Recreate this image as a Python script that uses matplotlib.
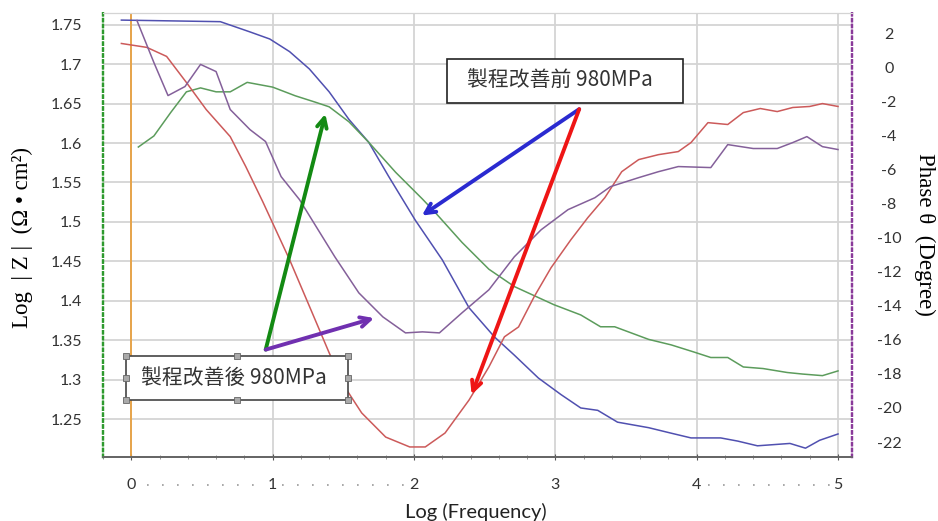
import numpy as np
import matplotlib.pyplot as plt
from matplotlib.patches import Rectangle
from matplotlib.lines import Line2D

# |Z| curves (left axis)
blue_x = [-0.07, 0.63, 0.84, 0.98, 1.12, 1.26, 1.40, 1.54, 1.68, 1.82, 2.01, 2.20, 2.39, 2.57, 2.71,
          2.88, 3.04, 3.18, 3.30, 3.44, 3.66, 3.82, 3.96, 4.17, 4.29, 4.43, 4.66, 4.77, 4.87, 5.0]
blue_y = [1.756, 1.754, 1.741, 1.732, 1.716, 1.694, 1.665, 1.630, 1.601, 1.558, 1.502, 1.452, 1.391,
          1.354, 1.331, 1.302, 1.281, 1.264, 1.261, 1.246, 1.239, 1.232, 1.226, 1.226, 1.222, 1.216,
          1.219, 1.213, 1.223, 1.231]

green_x = [0.05, 0.16, 0.28, 0.39, 0.49, 0.60, 0.70, 0.82, 1.0, 1.16, 1.30, 1.40, 1.54, 1.68, 1.87,
           2.06, 2.15, 2.34, 2.53, 2.71, 2.99, 3.18, 3.32, 3.42, 3.66, 3.82, 3.98, 4.10, 4.22, 4.33,
           4.47, 4.64, 4.75, 4.89, 5.0]
green_y = [1.595, 1.609, 1.639, 1.665, 1.670, 1.665, 1.665, 1.677, 1.671, 1.660, 1.652, 1.646, 1.627,
           1.601, 1.563, 1.529, 1.512, 1.474, 1.440, 1.418, 1.395, 1.382, 1.367, 1.367, 1.351, 1.344,
           1.335, 1.328, 1.328, 1.316, 1.314, 1.309, 1.307, 1.305, 1.311]

# phase curves (right axis)
red_x = [-0.07, 0.11, 0.25, 0.39, 0.53, 0.70, 0.81, 0.93, 1.12, 1.28, 1.40, 1.51, 1.63, 1.80, 1.97,
         2.08, 2.22, 2.39, 2.53, 2.64, 2.74, 2.85, 2.97, 3.11, 3.23, 3.35, 3.47, 3.59, 3.73, 3.87,
         3.96, 4.08, 4.22, 4.33, 4.45, 4.57, 4.68, 4.80, 4.89, 5.0]
red_y = [1.41, 1.18, 0.65, -0.88, -2.47, -4.06, -5.82, -7.88, -11.29, -14.41, -16.76, -18.76, -20.29,
         -21.71, -22.29, -22.29, -21.47, -19.53, -17.59, -15.82, -15.24, -13.47, -11.76, -10.12,
         -8.82, -7.65, -6.12, -5.41, -5.12, -4.94, -4.41, -3.24, -3.35, -2.65, -2.41, -2.59, -2.35,
         -2.29, -2.12, -2.29]

purple_x = [0.04, 0.16, 0.26, 0.38, 0.49, 0.60, 0.70, 0.84, 0.95, 1.06, 1.19, 1.30, 1.44, 1.61, 1.78,
            1.94, 2.06, 2.18, 2.34, 2.53, 2.71, 2.90, 3.09, 3.28, 3.39, 3.59, 3.73, 3.87, 4.10, 4.22,
            4.40, 4.57, 4.68, 4.78, 4.89, 5.0]
purple_y = [2.76, 0.29, -1.65, -1.12, 0.18, -0.24, -2.47, -3.65, -4.35, -6.41, -7.76, -9.24, -11.12,
            -13.24, -14.65, -15.59, -15.53, -15.59, -14.41, -13.06, -11.12, -9.53, -8.35, -7.65,
            -7.0, -6.47, -6.12, -5.82, -5.88, -4.53, -4.76, -4.76, -4.41, -4.06, -4.65, -4.82]

x_ticks = [0, 1, 2, 3, 4, 5]
z_ticks = [1.25, 1.3, 1.35, 1.4, 1.45, 1.5, 1.55, 1.6, 1.65, 1.7, 1.75]
phase_ticks = list(range(-22, 3, 2))

W, H = 938, 521


def fp(x, y):
    # pixel position -> figure fraction
    return x / W, 1 - y / H


fig = plt.figure(figsize=(W / 100, H / 100), dpi=100)
ax = fig.add_axes([103 / W, 1 - 457 / H, (852 - 103) / W, (457 - 13) / H])
ax2 = ax.twinx()

ax.axvline(0, color='#e8a040', lw=1.3, zorder=1)
ax.plot(blue_x, blue_y, color='#5050b0', lw=1.1)
ax.plot(green_x, green_y, color='#5c9c5c', lw=1.1)
ax2.plot(red_x, red_y, color='#cc5a5a', lw=1.1)
ax2.plot(purple_x, purple_y, color='#84609a', lw=1.1)

ax.set_xlim(-0.176, 5.099)
ax.set_ylim(1.2018, 1.765)
ax2.set_ylim(-22.88, 3.2)

ax.set_xticks(x_ticks)
ax.set_xticks(np.arange(-0.2, 5.01, 0.2), minor=True)
ax.set_yticks(z_ticks)
ax.set_yticklabels(['%g' % v for v in z_ticks])
ax2.set_yticks(phase_ticks)
ax2.set_yticklabels([str(v) for v in phase_ticks])

ax.grid(True, color='#d4d4d4', lw=1.3)
ax.set_axisbelow(True)

tick_font = 'Lato'
ax.tick_params(axis='y', length=0, pad=15, labelsize=11.5, labelcolor='#333333')
ax.tick_params(axis='x', which='major', length=4, direction='inout', color='#555555', pad=13,
               labelsize=11.5, labelcolor='#333333')
ax.tick_params(axis='x', which='minor', length=3, direction='inout', color='#888888')
ax2.tick_params(axis='y', length=0, pad=26.6, labelsize=11.5, labelcolor='#333333')
for lbl in ax.get_xticklabels() + ax.get_yticklabels() + ax2.get_yticklabels():
    lbl.set_fontfamily(tick_font)
for lbl in ax2.get_yticklabels():
    lbl.set_ha('center')

for a in (ax, ax2):
    a.spines['top'].set_color('#d4d4d4')
    a.spines['bottom'].set_color('#666666')
    a.spines['bottom'].set_linewidth(1.3)
    a.spines['left'].set_color('#2e9a2e')
    a.spines['left'].set_linestyle(':')
    a.spines['left'].set_linewidth(1.6)
    a.spines['right'].set_color('#8a3a9a')
    a.spines['right'].set_linestyle(':')
    a.spines['right'].set_linewidth(1.6)

# axis titles
serif = ['Liberation Serif', 'DejaVu Serif']
fig.text(*fp(22, 238), 'Log  | Z |  (Ω • cm²)', rotation=90, ha='center', va='center',
         fontsize=16.5, family=serif)
fig.text(*fp(925, 234), 'Phase θ  (Degree)', rotation=270, ha='center', va='center',
         fontsize=16.5, family=serif)
fig.text(*fp(476, 512), 'Log (Frequency)', ha='center', va='center', fontsize=14.5,
         family=tick_font, color='#222222')

# dotted leaders between x tick labels
for x0, x1 in [(147, 265), (282, 405), (708, 832)]:
    fig.add_artist(Line2D([x0 / W, x1 / W], [1 - 485 / H] * 2, color='#999999', lw=1.2,
                          linestyle=(0, (1, 8))))

# arrows
arrows = [
    ((3.169, 1.643), (2.056, 1.508), '#2a2ad0'),
    ((3.169, 1.643), (2.408, 1.281), '#ee1515'),
    ((0.951, 1.338), (1.373, 1.637), '#138a13'),
    ((0.951, 1.338), (1.718, 1.378), '#7030b0'),
]
for tail, head, col in arrows:
    ax2.annotate('', xy=head, xycoords=ax.transData, xytext=tail, textcoords=ax.transData,
                 arrowprops=dict(arrowstyle='->,head_length=0.7,head_width=0.35', color=col,
                                 lw=2.8, shrinkA=0, shrinkB=0), zorder=5)

# text boxes
cjk = ['Noto Sans CJK TC', 'DejaVu Sans']
x0, y0 = fp(447, 103)
fig.add_artist(Rectangle((x0, y0), 236 / W, 44 / H, facecolor='white', edgecolor='#222222', lw=1.2,
                         transform=fig.transFigure, zorder=6))
fig.text(*fp(560, 81), '製程改善前 980MPa', ha='center', va='center', fontsize=15, family=cjk,
         color='#333333', zorder=7)

x0, y0 = fp(126, 400)
fig.add_artist(Rectangle((x0, y0), 222 / W, 44 / H, facecolor='white', edgecolor='#444444', lw=1.2,
                         transform=fig.transFigure, zorder=6))
fig.text(*fp(234, 378), '製程改善後 980MPa', ha='center', va='center', fontsize=15, family=cjk,
         color='#333333', zorder=7)
hx = [126, 237, 348, 126, 348, 126, 237, 348]
hy = [356, 356, 356, 378, 378, 400, 400, 400]
fig.add_artist(Line2D([v / W for v in hx], [1 - v / H for v in hy], linestyle='none', marker='s',
                      ms=4, mfc='#aaaaaa', mec='#666666', mew=0.6, zorder=8))

fig.savefig('out.png', dpi=100)
